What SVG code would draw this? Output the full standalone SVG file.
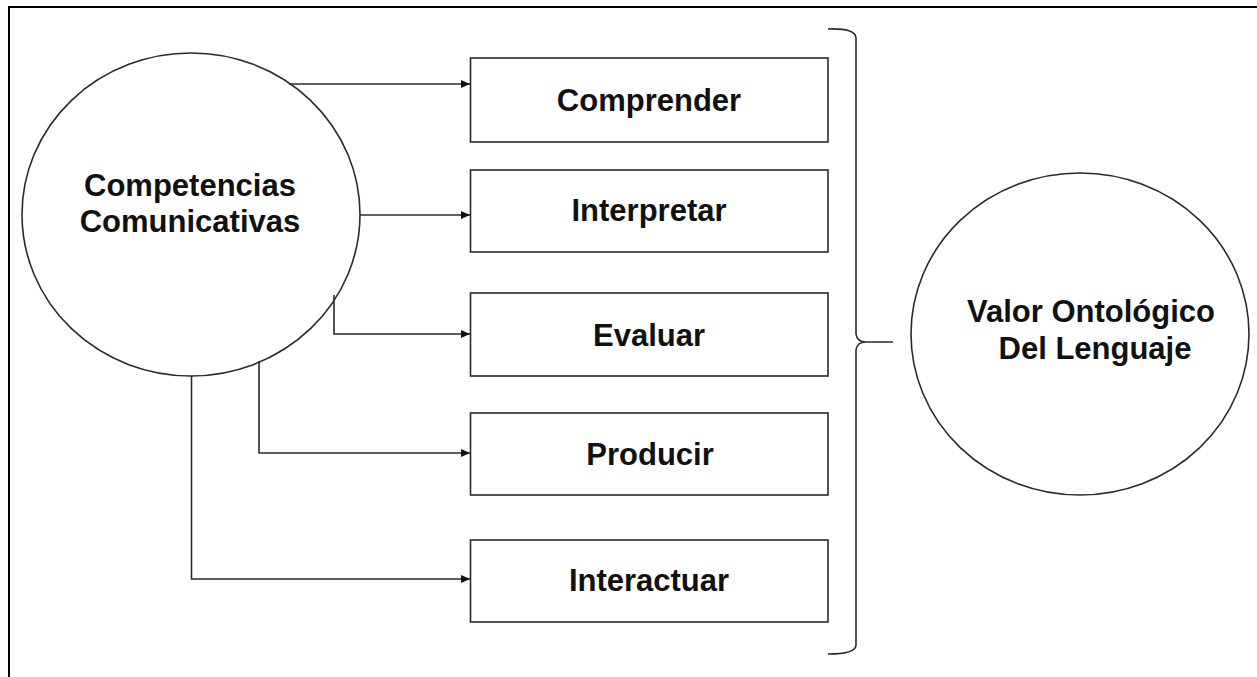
<svg xmlns="http://www.w3.org/2000/svg" width="1257" height="677" viewBox="0 0 1257 677">
  <style>
    .frame { fill: none; stroke: #000; stroke-width: 2; }
    .shape { fill: #fff; stroke: #2a2a2a; stroke-width: 1.6; }
    .label { font-family: "Liberation Sans", Arial, sans-serif; font-weight: bold; font-size: 31px; fill: #111; text-anchor: middle; }
    .conn { fill: none; stroke: #2a2a2a; stroke-width: 1.6; }
  </style>
  <defs>
    <marker id="arrow" markerWidth="10" markerHeight="8" refX="9" refY="4" orient="auto" markerUnits="userSpaceOnUse">
      <path d="M0,0 L9,4 L0,8 Z" fill="#111"/>
    </marker>
  </defs>
  <rect width="1257" height="677" fill="#fff"/>
  <g id="frame">
    <path class="frame" d="M9,677 L9,7 L1257,7"/>
  </g>
  <g id="competencias">
    <ellipse class="shape" cx="191" cy="214.5" rx="169" ry="161.5"/>
    <text class="label" x="190" y="196">Competencias</text>
    <text class="label" x="190" y="232">Comunicativas</text>
  </g>
  <g id="comprender">
    <rect class="shape" x="470.5" y="58" width="357.5" height="84"/>
    <text class="label" x="649" y="111">Comprender</text>
  </g>
  <g id="interpretar">
    <rect class="shape" x="470.5" y="170" width="357.5" height="82"/>
    <text class="label" x="649" y="221">Interpretar</text>
  </g>
  <g id="evaluar">
    <rect class="shape" x="470.5" y="293" width="357.5" height="83"/>
    <text class="label" x="649" y="346">Evaluar</text>
  </g>
  <g id="producir">
    <rect class="shape" x="470.5" y="413" width="357.5" height="82"/>
    <text class="label" x="650" y="465">Producir</text>
  </g>
  <g id="interactuar">
    <rect class="shape" x="470.5" y="540" width="357.5" height="82"/>
    <text class="label" x="649" y="591">Interactuar</text>
  </g>
  <g id="valor">
    <ellipse class="shape" cx="1080" cy="334" rx="169" ry="161"/>
    <text class="label" x="1091" y="322">Valor Ontológico</text>
    <text class="label" x="1095" y="359">Del Lenguaje</text>
  </g>
  <g id="connectors">
    <path class="conn" d="M289,84 L470,84" marker-end="url(#arrow)"/>
    <path class="conn" d="M360,215 L470,215" marker-end="url(#arrow)"/>
    <path class="conn" d="M334,295 L334,334 L470,334" marker-end="url(#arrow)"/>
    <path class="conn" d="M259,361 L259,453 L470,453" marker-end="url(#arrow)"/>
    <path class="conn" d="M191.5,376 L191.5,579 L470,579" marker-end="url(#arrow)"/>
    <path class="conn" d="M828,29 Q856,28 856,38 L856,334 Q857,342 866,342 L893,342 M866,342 Q857,342 856,350 L856,645 Q856,654 828,654"/>
  </g>
</svg>
